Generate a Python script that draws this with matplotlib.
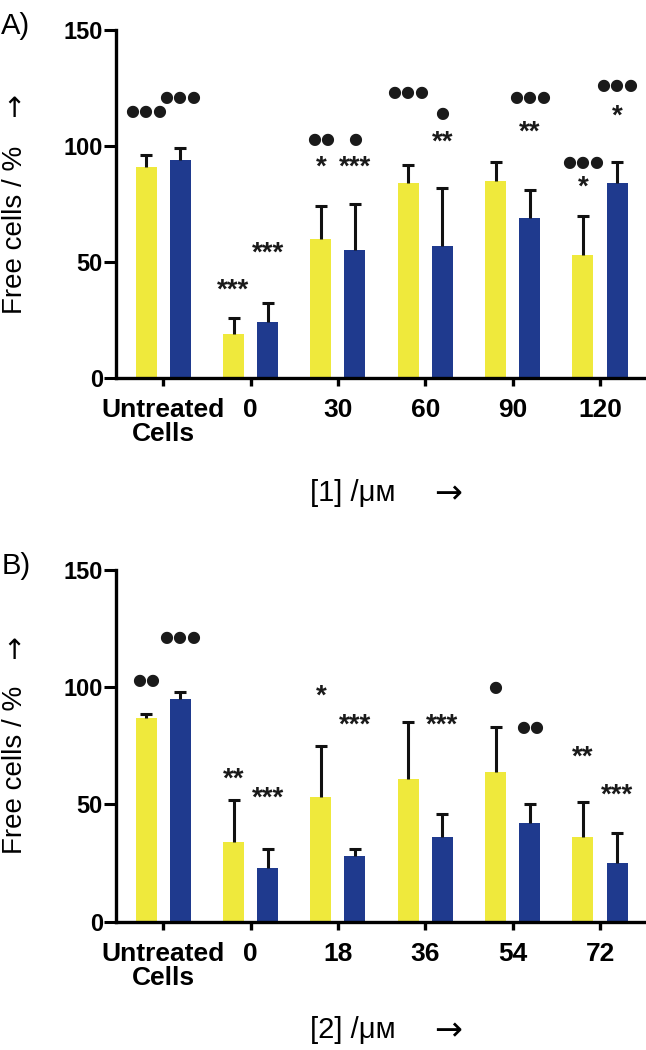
import numpy as np
import matplotlib.pyplot as plt
from matplotlib.transforms import offset_copy

plt.rcParams['font.family'] = ['Liberation Sans', 'DejaVu Sans']

# panel A: compound [1]
cats_a = ["Untreated\nCells", "0", "30", "60", "90", "120"]
yel_a = [91, 19, 60, 84, 85, 53]
yel_a_err = [5, 7, 14, 8, 8, 17]
blu_a = [94, 24, 55, 57, 69, 84]
blu_a_err = [5, 8.5, 20, 25, 12, 9]
# (group, series, label, y)
marks_a = [(0, 0, "●●●", 115), (0, 1, "●●●", 121),
           (1, 0, "***", 40), (1, 1, "***", 56),
           (2, 0, "●●", 103), (2, 0, "*", 93), (2, 1, "●", 103), (2, 1, "***", 93),
           (3, 0, "●●●", 123), (3, 1, "●", 114), (3, 1, "**", 104),
           (4, 1, "●●●", 121), (4, 1, "**", 108),
           (5, 0, "●●●", 93), (5, 0, "*", 84.5), (5, 1, "●●●", 126), (5, 1, "*", 115)]

# panel B: compound [2]
cats_b = ["Untreated\nCells", "0", "18", "36", "54", "72"]
yel_b = [87, 34, 53, 61, 64, 36]
yel_b_err = [1.5, 18, 22, 24, 19, 15]
blu_b = [95, 23, 28, 36, 42, 25]
blu_b_err = [3, 8, 3, 10, 8, 13]
marks_b = [(0, 0, "●●", 103), (0, 1, "●●●", 121),
           (1, 0, "**", 63), (1, 1, "***", 55),
           (2, 0, "*", 98.5), (2, 1, "***", 86),
           (3, 1, "***", 86),
           (4, 0, "●", 100), (4, 1, "●●", 83),
           (5, 0, "**", 72.5), (5, 1, "***", 56)]

YEL = "#EFE93C"
BLU = "#1F3A8E"
off = 0.195
w = 0.24

fig = plt.figure(figsize=(6.46, 10.5), dpi=100)


def bars(ax, x, vals, errs, color):
    ekw = dict(elinewidth=2.2, capthick=2.2, ecolor="#111111")
    cont = ax.bar(x, vals, w, color=color, yerr=[np.zeros(len(errs)), errs],
                  capsize=4, error_kw=ekw)
    # keep only the upper caps
    for cap in cont.errorbar.lines[1]:
        if np.allclose(cap.get_ydata(), vals):
            cap.set_visible(False)


def panel(rect, cats, yv, ye, bv, be, marks, letter, xlab, ylab_y, arr_y, xlab_y):
    ax = fig.add_axes(rect)
    x = np.arange(len(cats))
    bars(ax, x - off, yv, ye, YEL)
    bars(ax, x + off, bv, be, BLU)
    ax.set_xlim(-0.54, 5.515)
    ax.set_ylim(0, 150)
    ax.set_yticks([0, 50, 100, 150])
    ax.set_xticks(x)
    ax.set_xticklabels(cats, fontsize=19, fontweight="bold", linespacing=1.0)
    for t in ax.get_yticklabels():
        t.set_fontsize(17)
        t.set_fontweight("bold")
    ax.spines["top"].set_visible(False)
    ax.spines["right"].set_visible(False)
    for s in ("left", "bottom"):
        ax.spines[s].set_linewidth(2.4)
    ax.tick_params(axis="y", length=9, width=2.2, pad=0.5)
    ax.tick_params(axis="x", length=5.5, width=2.4, pad=9)
    star_tr = offset_copy(ax.transData, fig=fig, x=0, y=-4, units="points")
    for g, s, lab, yy in marks:
        xx = g - off if s == 0 else g + off
        if "*" in lab:
            ax.text(xx, yy, lab, transform=star_tr, ha="center", va="center",
                    fontsize=20, fontweight="bold", color="#1a1a1a")
        else:
            ax.text(xx, yy, lab, ha="center", va="center", fontsize=11.5,
                    family=["DejaVu Sans"], color="#1a1a1a")
    top = rect[1] + rect[3]
    fig.text(0.002, top + 0.004, letter, fontsize=21, ha="left", va="center")
    fig.text(15 / 646, 1 - ylab_y / 1050, "Free cells / %", rotation=90,
             fontsize=20, ha="center", va="center")
    fig.text(14 / 646, 1 - arr_y / 1050, "↑", fontsize=20,
             family=["DejaVu Sans"], ha="center", va="center")
    fig.text(310 / 646, 1 - xlab_y / 1050, xlab, fontsize=21, ha="left", va="center")
    # arrow glyph sits about 10 px above its baseline
    fig.text(448 / 646, 1 - (xlab_y + 10) / 1050, "→", fontsize=24,
             family=["DejaVu Sans"], ha="center", va="baseline")
    return ax


panel([116 / 646, 1 - 378 / 1050, 529 / 646, 348 / 1050], cats_a, yel_a, yel_a_err,
      blu_a, blu_a_err, marks_a, "A)", "[1] /μᴍ", 230, 109, 493)
panel([116 / 646, 1 - 921.7 / 1050, 529 / 646, 351.7 / 1050], cats_b, yel_b, yel_b_err,
      blu_b, blu_b_err, marks_b, "B)", "[2] /μᴍ", 770, 651, 1030)

fig.savefig("out.png", dpi=100)
